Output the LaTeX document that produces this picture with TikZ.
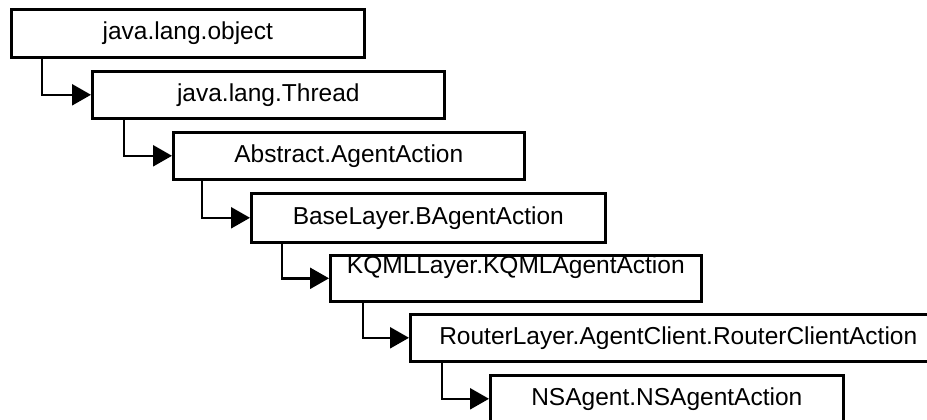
\documentclass[tikz,border=0pt]{standalone}
\usepackage{fontspec}
\setmainfont{Liberation Sans}
\usetikzlibrary{arrows.meta}

\begin{document}
\begin{tikzpicture}[x=1pt,y=-1pt,
  classbox/.style={draw=black, line width=2.6pt, rectangle, inner sep=0pt,
    anchor=north west, font=\fontsize{24.5}{29}\selectfont,
    text height=17.6pt, text depth=5.1pt},
  inherit/.style={draw=black, line width=2.4pt,
    -{Triangle[length=19pt,width=21pt]}}
]
\path[use as bounding box, clip] (0,0) rectangle (927,420);
\fill[white] (0,0) rectangle (927,420);

% class hierarchy, one box per level
\node[classbox, minimum width=353pt, minimum height=48pt] (b1) at (10,8)  {java.lang.object};
\node[classbox, minimum width=352pt, minimum height=47pt] (b2) at (91,70) {java.lang.Thread};
\node[classbox, minimum width=351pt, minimum height=47pt] (b3) at (172,131) {Abstract.AgentAction};
\node[classbox, minimum width=354pt, minimum height=49pt] (b4) at (250,192) {BaseLayer.BAgentAction};
\node[classbox, minimum width=371pt, minimum height=46pt,
      text height=18pt, text depth=28pt] (b5) at (329,254) {KQMLLayer.KQMLAgentAction};
\node[classbox, minimum width=536pt, minimum height=47pt] (b6) at (409,313) {RouterLayer.AgentClient.RouterClientAction};
\node[classbox, minimum width=353pt, minimum height=47pt] (b7) at (489,374) {NSAgent.NSAgentAction};

% inheritance connectors
\draw[inherit] ([xshift=32pt]b1.south west) |- (b2.west);
\draw[inherit] ([xshift=33pt]b2.south west) |- (b3.west);
\draw[inherit] ([xshift=30pt]b3.south west) |- (b4.west);
\draw[inherit] ([xshift=32pt]b4.south west) |- (b5.west);
\draw[inherit] ([xshift=34pt]b5.south west) |- (b6.west);
\draw[inherit] ([xshift=33pt]b6.south west) |- (b7.west);
\end{tikzpicture}
\end{document}
